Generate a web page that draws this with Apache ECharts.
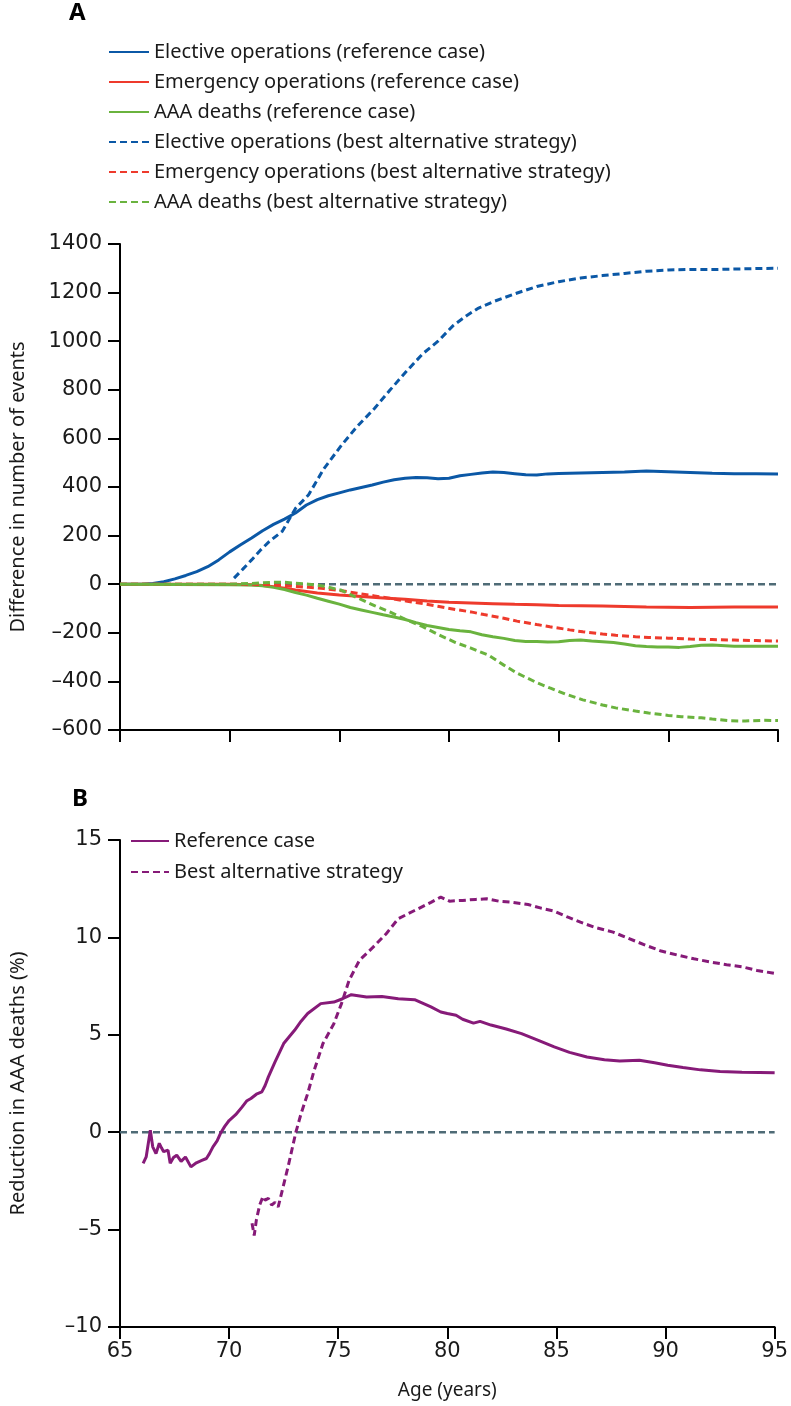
<!DOCTYPE html>
<html>
<head>
<meta charset="utf-8">
<script src="https://cdn.jsdelivr.net/npm/echarts@6/dist/echarts.min.js"></script>
<style>
html,body{margin:0;padding:0;background:#fff;}
#chart{width:791px;height:1406px;}
</style>
</head>
<body>
<div id="chart"></div>
<script>
// ---------- Panel A data (difference in number of events) ----------
const electiveRefAge = [65,66,66.5,67,67.5,68,68.5,69,69.5,70,70.5,71,71.5,72,72.5,73,73.5,74,74.5,75,75.5,76,76.5,77,77.5,78,78.5,79,79.5,80,80.5,81,81.5,82,82.5,83,83.5,84,84.5,85,86,87,88,89,90,91,92,93,94,95];
const electiveRefVal = [0,0,3,10,22,36,52,72,100,133,162,190,220,246,268,293,326,348,364,376,388,398,408,420,430,436,439,438,434,436,446,452,458,462,460,455,450,449,454,456,458,460,462,466,463,460,457,455,455,454];

const electiveBestAge = [70.2,70.6,71,71.4,71.8,72.4,73,73.6,74.3,75.1,75.8,76.6,77.3,78.1,78.8,79.5,80.2,80.8,81.3,82,83,84,85,86,87,88,89,90,91,92,93,94,95];
const electiveBestVal = [25,62,100,140,175,218,312,368,476,572,648,723,798,880,948,1000,1065,1105,1134,1162,1195,1225,1245,1260,1270,1279,1288,1293,1295,1295,1297,1299,1300];

const emergRefAge = [65,70,71,71.5,72,72.5,73,74,75,76,77,78,79,80,81,82,83,84,85,86,87,88,89,90,91,92,93,94,95];
const emergRefVal = [0,0,-2,-5,-10,-17,-24,-36,-44,-51,-57,-62,-69,-74,-77,-80,-83,-85,-88,-89,-90,-92,-94,-95,-96,-95,-94,-94,-94];

const emergBestAge = [65,70,71,72,72.5,73,73.6,74.3,75.1,75.8,76.6,77.3,78.1,78.8,79.55,80.3,81,81.6,82.5,83.1,84,84.6,85.5,86.1,87,87.6,88.5,89.1,90,91,92,93,94,95];
const emergBestVal = [0,0,0,-3,-6,-9,-13,-18,-27,-37,-48,-58,-70,-80,-92,-104,-114,-125,-140,-152,-166,-175,-188,-196,-205,-210,-216,-219,-222,-226,-228,-230,-232,-234];

const deathsRefAge = [65,70,71,71.5,72,72.5,73,73.5,74,74.5,75,75.5,76,76.5,77,77.5,78,78.5,79,79.5,80,80.5,81,81.5,82,82.5,83,83.5,84,84.5,85,85.5,86,86.5,87,87.5,88,88.5,89,89.5,90,90.5,91,91.5,92,93,94,95];
const deathsRefVal = [0,-2,-3,-6,-13,-22,-34,-45,-58,-70,-82,-96,-106,-116,-126,-135,-145,-158,-170,-178,-186,-192,-196,-208,-216,-223,-232,-236,-236,-238,-237,-232,-230,-234,-237,-240,-246,-253,-256,-258,-258,-260,-256,-251,-250,-255,-255,-255];

const deathsBestAge = [65,70,71,72,72.5,73,73.6,74.3,75.1,75.8,76.6,77.3,78.1,78.8,79.55,80.3,81,81.8,82.5,83.1,84,84.6,85.3,86.1,87,87.6,88.5,89.1,90,90.6,91.5,92,92.8,93.5,94.3,95];
const deathsBestVal = [0,0,3,8,8,4,0,-8,-25,-55,-88,-114,-148,-175,-209,-240,-263,-292,-333,-366,-405,-427,-452,-476,-497,-509,-522,-530,-540,-545,-550,-555,-562,-563,-560,-561];

// ---------- Panel B data (reduction in AAA deaths, %) ----------
const reductionRefAge = [66.06,66.2,66.39,66.5,66.65,66.8,66.9,67.0,67.2,67.3,67.45,67.6,67.8,68.0,68.25,68.5,68.75,68.96,69.1,69.26,69.45,69.6,69.8,70.0,70.3,70.6,70.8,71.0,71.25,71.5,71.65,71.8,72.1,72.5,73.0,73.3,73.6,74.2,74.8,75.2,75.6,76.3,77.0,77.75,78.5,79.25,79.7,80.0,80.4,80.7,81.2,81.5,82.0,82.7,83.4,84.2,84.9,85.6,86.4,87.2,87.9,88.8,89.5,90.1,90.8,91.6,92.5,93.5,94.3,95];
const reductionRefVal = [-1.6,-1.27,0.1,-0.75,-1.1,-0.57,-0.8,-1.0,-0.92,-1.6,-1.3,-1.18,-1.5,-1.27,-1.78,-1.57,-1.45,-1.35,-1.1,-0.75,-0.45,-0.07,0.3,0.6,0.9,1.3,1.6,1.73,1.95,2.07,2.4,2.84,3.6,4.55,5.23,5.7,6.09,6.6,6.68,6.85,7.06,6.94,6.97,6.85,6.8,6.43,6.17,6.09,6.0,5.8,5.6,5.69,5.5,5.3,5.06,4.7,4.38,4.1,3.86,3.72,3.66,3.69,3.56,3.44,3.32,3.2,3.12,3.08,3.07,3.05];

const reductionBestAge = [71.05,71.15,71.25,71.4,71.55,71.65,71.8,71.95,72.1,72.25,72.4,72.7,73.06,73.3,73.6,73.9,74.3,74.8,75.15,75.5,75.97,76.6,77.2,77.75,78.5,79.25,79.7,80.1,80.7,81.3,81.8,82.4,83.0,83.7,84.3,84.9,85.5,86.1,86.8,87.6,88.3,89.1,89.8,90.6,91.3,92.1,92.8,93.55,94.2,94.9,95];
const reductionBestVal = [-4.67,-5.3,-4.5,-3.74,-3.3,-3.49,-3.4,-3.74,-3.6,-3.83,-3.15,-1.78,0,0.96,1.98,3.18,4.55,5.57,6.6,7.8,8.82,9.5,10.19,10.96,11.38,11.8,12.07,11.86,11.9,11.95,11.98,11.85,11.8,11.69,11.5,11.35,11.05,10.78,10.5,10.27,9.95,9.59,9.3,9.08,8.9,8.73,8.6,8.48,8.3,8.17,8.15];

const zeroAge = [65,95];
const zeroVal = [0,0];

// ---------- Axis ticks / labels ----------
const xTicks = {min:65, max:95, step:5};
const yTicksA = {min:-600, max:1400, step:200};
const yTicksB = {min:-10, max:15, step:5};

const namesA = [
  'Elective operations (reference case)',
  'Emergency operations (reference case)',
  'AAA deaths (reference case)',
  'Elective operations (best alternative strategy)',
  'Emergency operations (best alternative strategy)',
  'AAA deaths (best alternative strategy)'
];
const namesB = ['Reference case','Best alternative strategy'];

function zip(a,b){ return a.map((x,i)=>[x,b[i]]); }

const BLUE='#0b58a6', RED='#ee3a2c', GREEN='#6ab33e', PURPLE='#861a78', ZERO='#4f6b76';
const TXT='#1a1a1a';
const FONT='"Noto Sans", "DejaVu Sans", sans-serif';
const NUMFONT='"DejaVu Sans", "Noto Sans", sans-serif';

function lineSeries(name, data, color, dashed, xi, yi){
  return {
    name, type:'line', data, xAxisIndex:xi, yAxisIndex:yi,
    symbol:'none', showSymbol:false, smooth:false, silent:true,
    animation:false, z: 3,
    itemStyle:{color},
    lineStyle:{color, width:3, type: dashed ? [7,4] : 'solid'}
  };
}
function zeroSeries(xi, yi){
  return {
    name:'zero'+xi, type:'line', data: zip(zeroAge, zeroVal), xAxisIndex:xi, yAxisIndex:yi,
    symbol:'none', silent:true, animation:false, z:2,
    lineStyle:{color:ZERO, width:2.6, type:[7,4]}
  };
}

const axisLine = {show:true, onZero:false, lineStyle:{color:'#000', width:2}};
const axisTick = {show:true, inside:false, length:12, lineStyle:{color:'#000', width:2}};
const hiddenItem = {color:'rgba(0,0,0,0)', borderColor:'rgba(0,0,0,0)', borderWidth:0, opacity:0};
const legendText = {fontFamily:FONT, fontSize:20, color:TXT};
const negFmt = v => v<0 ? '\u2013'+Math.abs(v) : String(v);

const chart = echarts.init(document.getElementById('chart'), null, {renderer:'canvas'});
chart.setOption({
  animation:false,
  backgroundColor:'#fff',
  title:[
    {text:'A', left:69, top:1, padding:0, textStyle:{fontFamily:FONT, fontSize:24, fontWeight:'bold', color:'#000'}},
    {text:'B', left:72, top:787, padding:0, textStyle:{fontFamily:FONT, fontSize:24, fontWeight:'bold', color:'#000'}}
  ],
  legend:[
    {data:namesA, orient:'vertical', left:108, top:42, padding:0, itemWidth:40, itemHeight:14, itemGap:10,
     itemStyle:hiddenItem, textStyle:legendText, selectedMode:false},
    {data:namesB, orient:'vertical', left:130, top:831, padding:0, itemWidth:38, itemHeight:14, itemGap:11,
     itemStyle:hiddenItem, textStyle:legendText, selectedMode:false}
  ],
  grid:[
    {left:108, right:13, top:244, height:486, containLabel:false},
    {left:108, right:13, top:840, height:487, containLabel:false}
  ],
  xAxis:[
    {type:'value', gridIndex:0, min:xTicks.min, max:xTicks.max, interval:xTicks.step,
     axisLine, axisTick, axisLabel:{show:false}, splitLine:{show:false}},
    {type:'value', gridIndex:1, min:xTicks.min, max:xTicks.max, interval:xTicks.step,
     axisLine, axisTick, splitLine:{show:false},
     axisLabel:{show:true, margin:14, fontFamily:NUMFONT, fontSize:21, color:TXT},
     name:'Age (years)', nameLocation:'middle', nameGap:54,
     nameTextStyle:{fontFamily:FONT, fontSize:19, color:TXT}}
  ],
  yAxis:[
    {type:'value', gridIndex:0, min:yTicksA.min, max:yTicksA.max, interval:yTicksA.step,
     axisLine, axisTick, splitLine:{show:false},
     axisLabel:{show:true, margin:18, fontFamily:NUMFONT, fontSize:21, color:TXT, formatter:negFmt},
     name:'Difference in number of events', nameLocation:'middle', nameRotate:90, nameGap:92,
     nameTextStyle:{fontFamily:FONT, fontSize:20, color:TXT}},
    {type:'value', gridIndex:1, min:yTicksB.min, max:yTicksB.max, interval:yTicksB.step,
     axisLine, axisTick, splitLine:{show:false},
     axisLabel:{show:true, margin:18, fontFamily:NUMFONT, fontSize:21, color:TXT, formatter:negFmt},
     name:'Reduction in AAA deaths (%)', nameLocation:'middle', nameRotate:90, nameGap:92,
     nameTextStyle:{fontFamily:FONT, fontSize:20, color:TXT}}
  ],
  series:[
    zeroSeries(0,0),
    lineSeries(namesA[0], zip(electiveRefAge, electiveRefVal), BLUE, false, 0, 0),
    lineSeries(namesA[1], zip(emergRefAge, emergRefVal), RED, false, 0, 0),
    lineSeries(namesA[2], zip(deathsRefAge, deathsRefVal), GREEN, false, 0, 0),
    lineSeries(namesA[3], zip(electiveBestAge, electiveBestVal), BLUE, true, 0, 0),
    lineSeries(namesA[4], zip(emergBestAge, emergBestVal), RED, true, 0, 0),
    lineSeries(namesA[5], zip(deathsBestAge, deathsBestVal), GREEN, true, 0, 0),
    zeroSeries(1,1),
    lineSeries(namesB[0], zip(reductionRefAge, reductionRefVal), PURPLE, false, 1, 1),
    lineSeries(namesB[1], zip(reductionBestAge, reductionBestVal), PURPLE, true, 1, 1)
  ]
});
</script>
</body>
</html>
